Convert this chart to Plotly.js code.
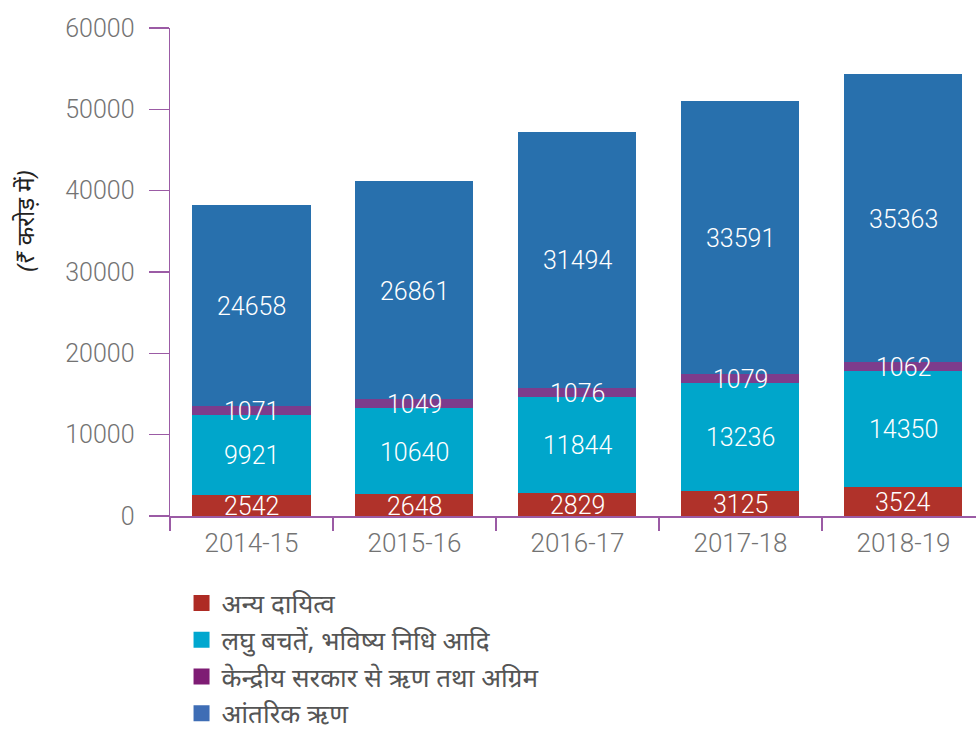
<!DOCTYPE html>
<html>
<head>
<meta charset="utf-8">
<script src="https://cdn.plot.ly/plotly-3.0.1.min.js"></script>
<style>html,body{margin:0;padding:0;background:#fff;}#chart{width:976px;height:729px;}</style>
</head>
<body>
<div id="chart"></div>
<script>
const years = ["2014-15", "2015-16", "2016-17", "2017-18", "2018-19"];
const otherLiabilities = [2542, 2648, 2829, 3125, 3524];
const smallSavings = [9921, 10640, 11844, 13236, 14350];
const centralLoans = [1071, 1049, 1076, 1079, 1062];
const internalDebt = [24658, 26861, 31494, 33591, 35363];

const seriesNames = ["अन्य दायित्व", "लघु बचतें, भविष्य निधि आदि", "केन्द्रीय सरकार से ऋण तथा अग्रिम", "आंतरिक ऋण"];
const barColors = ["#B0322A", "#00A6CB", "#7D3C8C", "#2870AD"];
const legendColors = ["#AE2B24", "#00A7CF", "#7E1C74", "#3E6DB5"];
const yTicks = [0, 10000, 20000, 30000, 40000, 50000, 60000];
const yTitle = "(₹ करोड़ में)";

const series = [otherLiabilities, smallSavings, centralLoans, internalDebt];
const numFont = "Roboto, 'DejaVu Sans', sans-serif";

const traces = [];
const annotations = [];
const base = years.map(() => 0);
series.forEach((vals, i) => {
  traces.push({
    type: "bar", x: years, y: vals, name: seriesNames[i],
    marker: {color: barColors[i]}, showlegend: false, hoverinfo: "skip",
    textposition: "none"
  });
  vals.forEach((v, k) => {
    annotations.push({
      x: years[k], y: base[k] + v / 2, xref: "x", yref: "y",
      text: String(v), showarrow: false, xanchor: "center", yanchor: "middle",
      yshift: -1,
      font: {color: "#ffffff", size: 25, family: numFont, weight: 300}
    });
    base[k] += v;
  });
});
seriesNames.forEach((nm, i) => {
  traces.push({
    type: "scatter", mode: "markers", x: [null], y: [null], name: nm,
    marker: {symbol: "square", size: 16, color: legendColors[i]},
    showlegend: true, hoverinfo: "skip", legendgroup: "g" + i
  });
});

annotations.push({
  text: "<i>" + yTitle + "</i>", textangle: -90, xref: "paper", yref: "paper",
  x: -0.18, y: 0.605, xanchor: "center", yanchor: "middle", showarrow: false,
  font: {size: 24, color: "#222222", family: "'Noto Sans', sans-serif", style: "italic"}
});

const axisColor = "#9B5BA5";
const layout = {
  width: 976, height: 729,
  margin: {l: 170, r: 0, t: 28, b: 213, autoexpand: false},
  paper_bgcolor: "#ffffff", plot_bgcolor: "#ffffff",
  barmode: "stack", bargap: 0.276,
  showlegend: true,
  legend: {
    orientation: "v", traceorder: "normal", tracegroupgap: 2,
    xref: "container", yref: "container",
    x: 0.186, y: 0.205, xanchor: "left", yanchor: "top",
    font: {size: 26, color: "#555555", family: "'Noto Sans', sans-serif"},
    itemclick: false
  },
  xaxis: {
    type: "category", range: [-0.5, 4.445],
    showline: true, linecolor: axisColor, linewidth: 1.5,
    ticks: "outside", tickson: "boundaries", ticklen: 13, tickcolor: axisColor, tickwidth: 1.5,
    tickfont: {size: 26, color: "#737373", family: numFont, weight: 300},
    ticklabelstandoff: 3,
    showgrid: false, zeroline: false, fixedrange: true
  },
  yaxis: {
    range: [0, 60000], tickvals: yTicks, ticktext: yTicks.map(String),
    showline: true, linecolor: axisColor, linewidth: 1.5,
    ticks: "outside", ticklen: 20, tickcolor: axisColor, tickwidth: 1.5,
    tickfont: {size: 25, color: "#737373", family: numFont, weight: 300},
    ticklabelstandoff: 9,
    showgrid: false, zeroline: false, fixedrange: true
  },
  annotations: annotations
};

Plotly.newPlot("chart", traces, layout, {displayModeBar: false, staticPlot: true});
</script>
</body>
</html>
